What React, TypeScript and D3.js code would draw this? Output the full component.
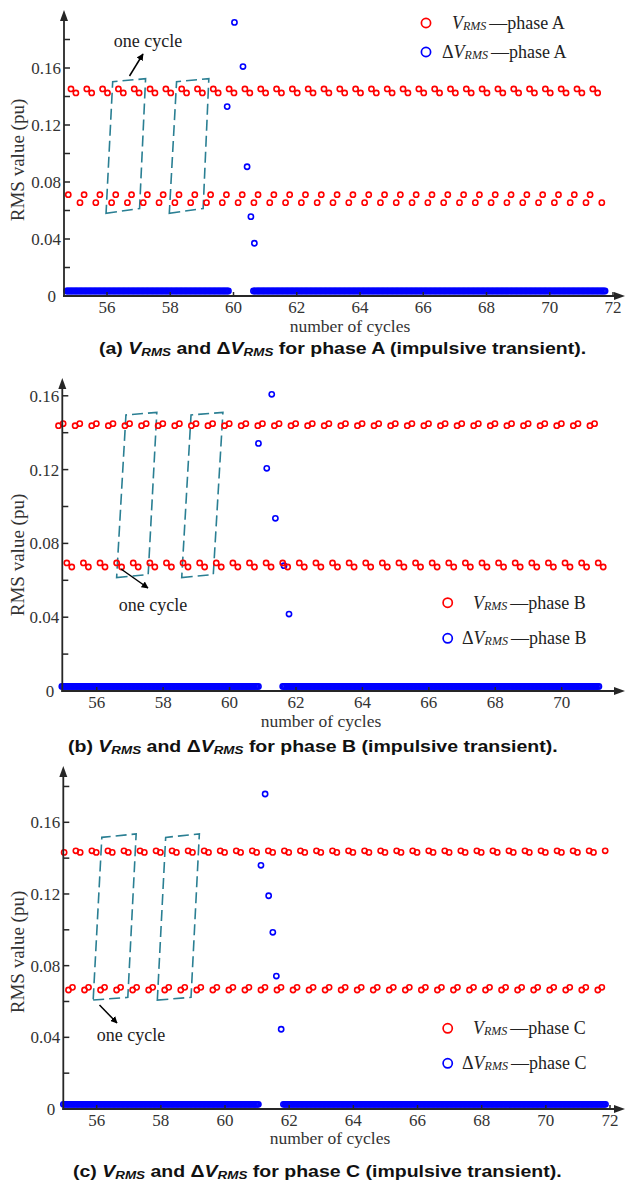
import React, { useEffect, useRef } from "react";
import * as d3 from "d3";

// ---------- values ----------
// V_RMS samples: a group of four samples repeats every half cycle
// (levels and offsets are listed in the order they appear inside a group)
const vrmsLevelsA = [0.0711, 0.1453, 0.1425, 0.0655];
const vrmsOffsetsA = [0, 0.085, 0.24, 0.37];
const vrmsGroupsA = [54.776, 71.276]; // first / last group start (cycles)
const vrmsClipA = [54.7, 71.8];

const vrmsLevelsB = [0.1438, 0.1449, 0.0694, 0.0672];
const vrmsOffsetsB = [0, 0.14, 0.25, 0.4];
const vrmsGroupsB = [54.85, 70.85];
const vrmsClipB = [54.8, 71.4];

const vrmsLevelsC = [0.0664, 0.0679, 0.1441, 0.1432];
const vrmsOffsetsC = [0, 0.125, 0.23, 0.365];
const vrmsGroupsC = [54.62, 71.62];
const vrmsClipC = [54.95, 71.9];

// Delta V_RMS: flat stretches near zero and the transient spike
const deltaFlatA = [[54.72, 59.84], [60.63, 71.75]];
const deltaLevelA = 0.0035;
const deltaSpikeA = [[59.8, 0.1329], [60.03, 0.192], [60.3, 0.161], [60.43, 0.0907], [60.55, 0.0557], [60.66, 0.037]];

const deltaFlatB = [[54.95, 60.87], [61.6, 71.15]];
const deltaLevelB = 0.0025;
const deltaSpikeB = [[60.87, 0.1342], [61.12, 0.1207], [61.27, 0.1608], [61.38, 0.0936], [61.64, 0.0679], [61.79, 0.0417]];

const deltaFlatC = [[54.96, 61.04], [61.82, 71.88]];
const deltaLevelC = 0.0026;
const deltaSpikeC = [[61.12, 0.136], [61.25, 0.1758], [61.36, 0.119], [61.49, 0.0986], [61.6, 0.0742], [61.75, 0.0445]];

// "one cycle" boxes, corners as [cycle, value]
const boxesA = [
  [[55.97, 0.058], [57.03, 0.0614], [57.22, 0.1525], [56.18, 0.1504]],
  [[57.97, 0.058], [59.04, 0.0614], [59.22, 0.1525], [58.2, 0.1504]],
];
const boxesB = [
  [[56.6, 0.0615], [57.55, 0.0631], [57.81, 0.151], [56.88, 0.1496]],
  [[58.56, 0.0615], [59.51, 0.0631], [59.8, 0.151], [58.84, 0.1496]],
];
const boxesC = [
  [[55.89, 0.0608], [56.97, 0.0623], [57.23, 0.1535], [56.16, 0.1516]],
  [[57.89, 0.0608], [58.94, 0.0623], [59.2, 0.1535], [58.15, 0.1516]],
];

const xTicksA = [56, 58, 60, 62, 64, 66, 68, 70, 72];
const xTicksB = [56, 58, 60, 62, 64, 66, 68, 70];
const xTicksC = [56, 58, 60, 62, 64, 66, 68, 70, 72];
const yLabels = [0, 0.04, 0.08, 0.12, 0.16];

// ---------- layout ----------
const W = 625;
const H = 1184;
const serif = "'Liberation Serif', 'Times New Roman', serif";
const sans = "'Liberation Sans', Arial, sans-serif";
const axisColor = "#262626";
const boxColor = "#2a7f93";

const panels = [
  {
    phase: "A", letter: "a",
    levels: vrmsLevelsA, offsets: vrmsOffsetsA, groups: vrmsGroupsA, clip: vrmsClipA,
    flat: deltaFlatA, flatLevel: deltaLevelA, spike: deltaSpikeA, boxes: boxesA, xTicks: xTicksA,
    axisX: 64, axisTop: 10, yTop: 0.18, xDomain: [56, 72], xRange: [107, 613], y0: 296, y16: 68,
    legendX: 426, legendY: [23, 52], legendTextX: [452, 442],
    yTitle: [24, 160], xTitle: [350, 332],
    note: { tx: 148, ty: 47, ax1: 129.5, ay1: 76, ax2: 143, ay2: 54 },
    caption: [99, 354],
  },
  {
    phase: "B", letter: "b",
    levels: vrmsLevelsB, offsets: vrmsOffsetsB, groups: vrmsGroupsB, clip: vrmsClipB,
    flat: deltaFlatB, flatLevel: deltaLevelB, spike: deltaSpikeB, boxes: boxesB, xTicks: xTicksB,
    axisX: 62.3, axisTop: 378, yTop: 0.16, xDomain: [56, 70], xRange: [96.7, 561.7], y0: 691, y16: 395.8,
    legendX: 447.7, legendY: [602.7, 638.3], legendTextX: [473, 462],
    yTitle: [24, 555], xTitle: [321, 727],
    note: { tx: 153, ty: 611, ax1: 121, ay1: 569, ax2: 148, ay2: 588 },
    caption: [68, 752],
  },
  {
    phase: "C", letter: "c",
    levels: vrmsLevelsC, offsets: vrmsOffsetsC, groups: vrmsGroupsC, clip: vrmsClipC,
    flat: deltaFlatC, flatLevel: deltaLevelC, spike: deltaSpikeC, boxes: boxesC, xTicks: xTicksC,
    axisX: 63.3, axisTop: 766, yTop: 0.18, xDomain: [56, 72], xRange: [96.7, 610], y0: 1109, y16: 822.3,
    legendX: 447.7, legendY: [1028.3, 1063.3], legendTextX: [473, 462],
    yTitle: [24, 952], xTitle: [330, 1144],
    note: { tx: 131, ty: 1041, ax1: 99.5, ay1: 1005, ax2: 117, ay2: 1023 },
    caption: [73, 1177],
  },
];

const drawPanel = (svg: any, p: any) => {
  const x = d3.scaleLinear().domain(p.xDomain).range(p.xRange);
  const y = d3.scaleLinear().domain([0, 0.16]).range([p.y0, p.y16]);
  const g = svg.append("g");

  // V_RMS points
  const vrms: number[][] = [];
  d3.range(p.groups[0], p.groups[1] + 0.01, 0.5).forEach((s: number) => {
    p.offsets.forEach((o: number, i: number) => {
      const c = s + o;
      if (c >= p.clip[0] && c <= p.clip[1]) vrms.push([c, p.levels[i]]);
    });
  });

  // Delta V_RMS points
  const delta: number[][] = [];
  p.flat.forEach((r: number[]) => {
    d3.range(r[0], r[1] + 1e-6, 0.04).forEach((c: number) => delta.push([c, p.flatLevel]));
  });
  p.spike.forEach((d: number[]) => delta.push(d));

  // dashed "one cycle" boxes
  const line = d3.line<number[]>().x((d) => x(d[0])).y((d) => y(d[1]));
  p.boxes.forEach((b: number[][]) => {
    g.append("path")
      .attr("d", line(b) + "Z")
      .attr("fill", "none")
      .attr("stroke", boxColor)
      .attr("stroke-width", 1.6)
      .attr("stroke-dasharray", "11,5");
  });

  g.append("g").selectAll("circle").data(delta).join("circle")
    .attr("cx", (d: number[]) => x(d[0]))
    .attr("cy", (d: number[]) => y(d[1]))
    .attr("r", 2.6)
    .attr("fill", "none")
    .attr("stroke", "#0000ff")
    .attr("stroke-width", 1.6);

  g.append("g").selectAll("circle").data(vrms).join("circle")
    .attr("cx", (d: number[]) => x(d[0]))
    .attr("cy", (d: number[]) => y(d[1]))
    .attr("r", 2.6)
    .attr("fill", "none")
    .attr("stroke", "#ff0000")
    .attr("stroke-width", 1.6);

  // axes
  g.append("line")
    .attr("x1", p.axisX).attr("x2", p.axisX)
    .attr("y1", p.y0 + 1).attr("y2", p.axisTop + 6)
    .attr("stroke", axisColor).attr("stroke-width", 1.8);
  g.append("path")
    .attr("d", `M${p.axisX},${p.axisTop} L${p.axisX - 4},${p.axisTop + 11} L${p.axisX + 4},${p.axisTop + 11}Z`)
    .attr("fill", axisColor);
  g.append("line")
    .attr("x1", p.axisX - 1).attr("x2", W - 6)
    .attr("y1", p.y0).attr("y2", p.y0)
    .attr("stroke", axisColor).attr("stroke-width", 1.8);
  g.append("path")
    .attr("d", `M${W},${p.y0} L${W - 11},${p.y0 - 4} L${W - 11},${p.y0 + 4}Z`)
    .attr("fill", axisColor);

  d3.range(0.02, p.yTop + 0.001, 0.02).forEach((t: number) => {
    g.append("line")
      .attr("x1", p.axisX).attr("x2", p.axisX + 6)
      .attr("y1", y(t)).attr("y2", y(t))
      .attr("stroke", axisColor).attr("stroke-width", 1.5);
  });
  yLabels.forEach((t) => {
    g.append("text")
      .attr("x", t === 0 ? p.axisX - 8 : p.axisX - 3)
      .attr("y", y(t))
      .attr("dy", "0.35em")
      .attr("text-anchor", "end")
      .style("font-family", serif).style("font-size", "17px")
      .attr("fill", "#333")
      .text(t === 0 ? "0" : d3.format(".2f")(t));
  });
  p.xTicks.forEach((t: number) => {
    g.append("line")
      .attr("x1", x(t)).attr("x2", x(t))
      .attr("y1", p.y0).attr("y2", p.y0 - 4)
      .attr("stroke", axisColor).attr("stroke-width", 1.5);
    g.append("text")
      .attr("x", x(t)).attr("y", p.y0 + 17)
      .attr("text-anchor", "middle")
      .style("font-family", serif).style("font-size", "17px")
      .attr("fill", "#333")
      .text(t);
  });

  // axis titles
  g.append("text")
    .attr("transform", `translate(${p.yTitle[0]},${p.yTitle[1]}) rotate(-90)`)
    .attr("text-anchor", "middle")
    .style("font-family", serif).style("font-size", "19px")
    .attr("fill", "#333")
    .text("RMS value (pu)");
  g.append("text")
    .attr("x", p.xTitle[0]).attr("y", p.xTitle[1])
    .attr("text-anchor", "middle")
    .style("font-family", serif).style("font-size", "17.5px")
    .attr("fill", "#333")
    .text("number of cycles");

  // legend
  ["#ff0000", "#0000ff"].forEach((col, i) => {
    g.append("circle")
      .attr("cx", p.legendX).attr("cy", p.legendY[i]).attr("r", 4.6)
      .attr("fill", "none").attr("stroke", col).attr("stroke-width", 1.7);
    const t = g.append("text")
      .attr("x", p.legendTextX[i]).attr("y", p.legendY[i] + 6)
      .style("font-family", serif).style("font-size", "18px")
      .attr("fill", "#222");
    if (i === 1) t.append("tspan").text("Δ");
    t.append("tspan").style("font-style", "italic").text("V");
    t.append("tspan").style("font-style", "italic").style("font-size", "12px").attr("dy", 1).text("RMS");
    t.append("tspan").attr("dy", -1).attr("dx", 3).text("—phase " + p.phase);
  });

  // "one cycle" note
  g.append("text")
    .attr("x", p.note.tx).attr("y", p.note.ty)
    .attr("text-anchor", "middle")
    .style("font-family", serif).style("font-size", "18px")
    .attr("fill", "#222")
    .text("one cycle");
  g.append("line")
    .attr("x1", p.note.ax1).attr("y1", p.note.ay1)
    .attr("x2", p.note.ax2).attr("y2", p.note.ay2)
    .attr("stroke", "#000").attr("stroke-width", 1.5)
    .attr("marker-end", "url(#arrowHead)");

  // caption (the figure's lettering is stretched sideways)
  const cap = g.append("text")
    .attr("transform", `translate(${p.caption[0]},${p.caption[1]}) scale(1.22,1)`)
    .style("font-family", sans).style("font-size", "16px").style("font-weight", "bold")
    .attr("fill", "#111");
  cap.append("tspan").text(`(${p.letter}) `);
  cap.append("tspan").style("font-style", "italic").text("V");
  cap.append("tspan").style("font-style", "italic").style("font-size", "11px").attr("dy", 2).text("RMS");
  cap.append("tspan").attr("dy", -2).text(" and Δ");
  cap.append("tspan").style("font-style", "italic").text("V");
  cap.append("tspan").style("font-style", "italic").style("font-size", "11px").attr("dy", 2).text("RMS");
  cap.append("tspan").attr("dy", -2).text(` for phase ${p.phase} (impulsive transient).`);
};

const App = () => {
  const ref = useRef<SVGSVGElement>(null);

  useEffect(() => {
    const svg = d3.select(ref.current);
    svg.selectAll("*").remove();
    svg.append("defs").append("marker")
      .attr("id", "arrowHead")
      .attr("viewBox", "0 0 10 10")
      .attr("refX", 9).attr("refY", 5)
      .attr("markerWidth", 7).attr("markerHeight", 7)
      .attr("markerUnits", "userSpaceOnUse")
      .attr("orient", "auto")
      .append("path")
      .attr("d", "M0,0 L10,5 L0,10 Z")
      .attr("fill", "#000");
    svg.append("rect").attr("width", W).attr("height", H).attr("fill", "#fff");
    panels.forEach((p) => drawPanel(svg, p));
  }, []);

  return (
    <div style={{ position: "absolute", left: 0, top: 0 }}>
      <svg ref={ref} width={W} height={H} style={{ display: "block" }} />
    </div>
  );
};

export default App;
